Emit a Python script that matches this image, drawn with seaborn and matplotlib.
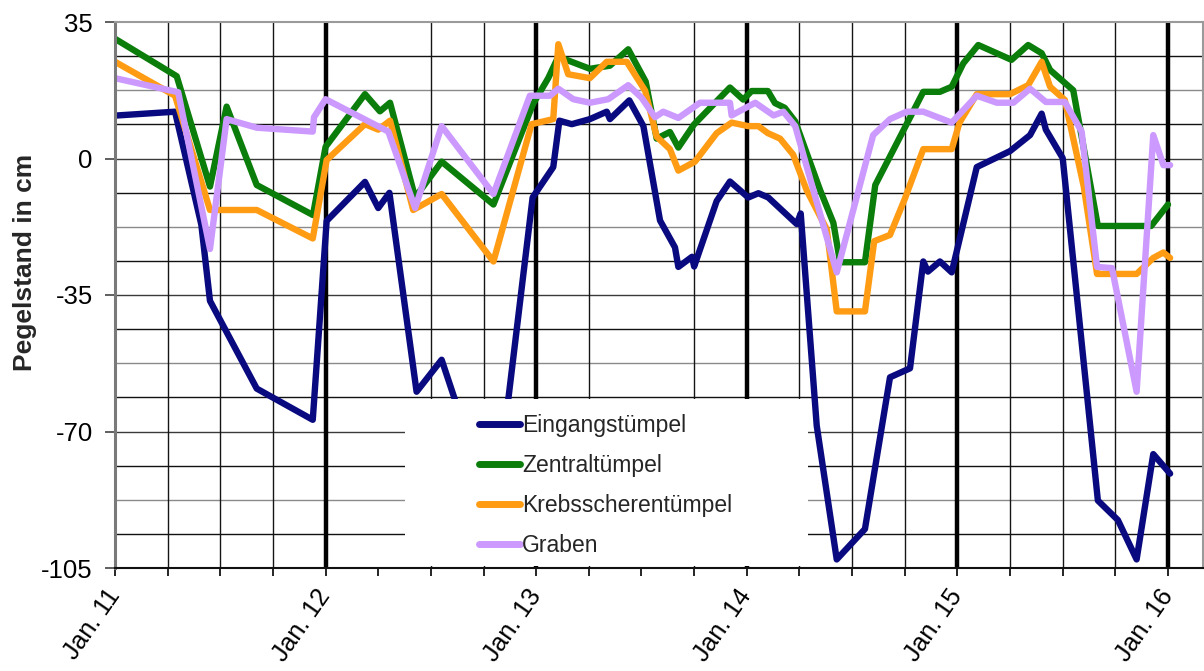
import numpy as np
import pandas as pd
import matplotlib
matplotlib.use("Agg")
import matplotlib.pyplot as plt
from matplotlib.patches import Rectangle
import seaborn as sns

sns.set_theme(style="white")
plt.rcParams["font.family"] = ["Liberation Sans", "DejaVu Sans"]

# Water level readings (cm) per pond, time in years (11 = Jan. 2011)
series_names = ["Eingangstümpel", "Zentraltümpel", "Krebsscherentümpel", "Graben"]
series_colors = ["#0a0a80", "#0b7d0b", "#ff9c14", "#cc99ff"]

eingang_t = [11.0, 11.285, 11.41, 11.451, 11.673, 11.939, 12.005, 12.187, 12.25, 12.303,
             12.432, 12.551, 12.80, 12.983, 13.081, 13.11, 13.169, 13.255, 13.335, 13.35,
             13.442, 13.509, 13.588, 13.659, 13.675, 13.74, 13.75, 13.857, 13.92, 14.007,
             14.055, 14.102, 14.237, 14.256, 14.332, 14.427, 14.561, 14.68, 14.775, 14.838,
             14.86, 14.917, 14.973, 15.092, 15.25, 15.345, 15.40, 15.42, 15.50, 15.667,
             15.762, 15.851, 15.93, 16.01]
eingang_v = [11.0, 12.0, -17.0, -36.5, -59.0, -67.0, -16.0, -6.0, -12.7, -8.8,
             -59.8, -51.6, -92.0, -10.0, -2.2, 9.7, 8.8, 10.1, 12.0, 10.1,
             14.9, 8.3, -15.9, -22.8, -27.8, -25.2, -27.7, -10.9, -5.9, -10.0,
             -8.9, -10.0, -16.8, -14.1, -68.5, -102.8, -95.0, -56.1, -53.8, -26.4,
             -29.0, -26.4, -29.2, -2.2, 1.9, 6.0, 11.5, 7.4, 0.1, -87.7,
             -92.7, -102.8, -75.8, -80.8]

zentral_t = [11.0, 11.293, 11.451, 11.53, 11.673, 11.94, 12.0, 12.187, 12.258, 12.306,
             12.425, 12.551, 12.797, 12.985, 13.057, 13.105, 13.255, 13.35, 13.437, 13.52,
             13.572, 13.635, 13.675, 13.749, 13.92, 13.983, 14.023, 14.10, 14.134, 14.18,
             14.23, 14.348, 14.411, 14.443, 14.561, 14.61, 14.838, 14.917, 14.973, 15.028,
             15.099, 15.257, 15.336, 15.40, 15.44, 15.55, 15.667, 15.92, 16.0]
zentral_v = [30.7, 21.1, -7.2, 13.3, -6.8, -14.5, 3.0, 16.5, 12.1, 14.3,
             -10.0, -0.8, -11.8, 14.0, 20.6, 26.1, 23.0, 23.8, 28.0, 19.7,
             5.1, 6.8, 2.8, 8.7, 18.2, 15.1, 17.3, 17.3, 14.2, 13.0,
             9.5, -8.1, -16.5, -26.6, -26.6, -6.8, 17.1, 17.1, 18.4, 24.4,
             29.1, 25.3, 29.1, 27.0, 22.7, 17.5, -17.3, -17.3, -11.8]

krebs_t = [11.0, 11.285, 11.451, 11.673, 11.939, 12.005, 12.187, 12.25, 12.306, 12.416,
           12.551, 12.797, 12.978, 13.081, 13.105, 13.152, 13.255, 13.335, 13.43, 13.517,
           13.572, 13.635, 13.675, 13.754, 13.857, 13.928, 14.007, 14.055, 14.10, 14.158,
           14.22, 14.284, 14.38, 14.427, 14.561, 14.605, 14.68, 14.75, 14.838, 14.973,
           15.01, 15.092, 15.25, 15.336, 15.40, 15.44, 15.51, 15.60, 15.663, 15.851,
           15.93, 15.978, 16.01]
krebs_v = [24.8, 16.1, -13.2, -13.2, -20.5, -0.4, 8.8, 7.4, 9.7, -13.2,
           -9.1, -26.4, 8.8, 10.1, 29.3, 21.6, 20.6, 24.8, 24.8, 17.4,
           5.6, 2.4, -3.1, -0.8, 6.5, 9.2, 8.3, 8.3, 6.5, 5.1,
           1.0, -8.1, -18.2, -39.2, -39.2, -21.2, -19.6, -10.4, 2.4, 2.4,
           9.2, 16.5, 16.5, 18.8, 24.8, 18.4, 15.0, -7.2, -29.6, -29.6,
           -25.5, -24.1, -25.5]

graben_t = [11.0, 11.30, 11.451, 11.53, 11.673, 11.939, 11.945, 12.0, 12.298, 12.425,
            12.551, 12.797, 12.97, 13.066, 13.105, 13.176, 13.255, 13.342, 13.437, 13.50,
            13.564, 13.603, 13.675, 13.778, 13.92, 13.928, 14.04, 14.127, 14.174, 14.23,
            14.427, 14.60, 14.68, 14.759, 14.838, 14.973, 15.092, 15.187, 15.266, 15.345,
            15.42, 15.51, 15.59, 15.663, 15.734, 15.851, 15.93, 15.978, 16.01]
graben_v = [20.6, 17.0, -23.2, 10.1, 7.9, 6.9, 10.6, 15.2, 6.9, -12.7,
            8.3, -9.1, 16.1, 16.1, 17.9, 15.2, 14.3, 15.2, 18.8, 15.6,
            10.6, 12.0, 10.4, 14.3, 14.3, 11.05, 14.3, 11.05, 12.0, 8.3,
            -29.2, 6.0, 10.1, 12.0, 12.0, 9.2, 16.1, 14.3, 14.3, 17.9,
            14.5, 14.5, 6.9, -27.8, -28.1, -59.8, 6.0, -1.7, -1.7]

year_ticks = [11, 12, 13, 14, 15, 16]
year_labels = ["Jan. 11", "Jan. 12", "Jan. 13", "Jan. 14", "Jan. 15", "Jan. 16"]
level_ticks = [-105, -70, -35, 0, 35]

frames = []
for name, t, v in zip(series_names,
                      [eingang_t, zentral_t, krebs_t, graben_t],
                      [eingang_v, zentral_v, krebs_v, graben_v]):
    frames.append(pd.DataFrame({"Zeit": t, "Pegel": v, "Gewässer": name}))
df = pd.concat(frames, ignore_index=True)

W, H = 1204, 671
fig = plt.figure(figsize=(W / 100, H / 100), dpi=100)
ax = fig.add_axes([115 / W, 1 - 568 / H, 1088 / W, 546 / H])
ax.set_facecolor("white")

ax.set_xlim(11, 11 + 1088 / 210.6)
ax.set_ylim(-105, 35)

# horizontal grid every 8.75 cm
for k in range(1, 16):
    yv = -105 + 8.75 * k
    col = "#8a8a8a" if k % 4 == 2 else ("#3a3a3a" if k % 4 == 0 else "#111111")
    ax.axhline(yv, color=col, lw=1.0, zorder=0.5)

# vertical grid every quarter year, heavy lines at each January
for q in np.arange(11.25, 16.01, 0.25):
    if abs(q - round(q)) < 1e-6:
        ax.axvline(q, color="black", lw=3.2, zorder=0.6)
    elif abs(q - 12.25) < 1e-6 or abs(q - 13.5) < 1e-6:
        continue
    else:
        ax.axvline(q, color="#151515", lw=1.0, zorder=0.5)

sns.lineplot(data=df, x="Zeit", y="Pegel", hue="Gewässer", hue_order=series_names,
             palette=dict(zip(series_names, series_colors)), estimator=None,
             linewidth=4.6, ax=ax, legend=True, zorder=2)

for s in ["top", "right"]:
    ax.spines[s].set_color("#9a9a9a")
    ax.spines[s].set_linewidth(1.5)
ax.spines["left"].set_color("#7a7a7a")
ax.spines["left"].set_linewidth(2.2)
ax.spines["bottom"].set_color("#111111")
ax.spines["bottom"].set_linewidth(1.5)

ax.set_yticks(level_ticks)
ax.set_yticklabels([str(t) for t in level_ticks])
ax.set_xticks(year_ticks)
ax.set_xticks(np.arange(11.25, 16.01, 0.25), minor=True)
ax.set_xticklabels(year_labels, rotation=55, ha="right", va="center",
                   rotation_mode="anchor")
ax.tick_params(axis="y", which="major", left=True, length=7, width=1.2,
               color="#444444", labelsize=18.5, pad=9, labelcolor="black")
ax.tick_params(axis="x", which="both", bottom=True, length=6, width=1.2,
               color="black", labelsize=18, pad=11, labelcolor="black")
ax.set_xlabel("")
ax.set_ylabel("")

fig.text(25 / W, 1 - 262 / H, "Pegelstand in cm", rotation=90, ha="center",
         va="center", fontsize=19, fontweight="bold")

# opaque legend panel
ax.add_patch(Rectangle((0.2665, 0.004), 0.3705, 0.3055, transform=ax.transAxes,
                       facecolor="white", edgecolor="none", zorder=3.5))
handles, labels = ax.get_legend_handles_labels()
leg = ax.legend(handles, labels, loc="upper left", bbox_to_anchor=(0.335, 0.282),
                frameon=False, fontsize=16.5, handlelength=1.75, handletextpad=0.1,
                labelspacing=0.74, borderpad=0, borderaxespad=0)
leg.set_zorder(5)
for h in leg.get_lines():
    h.set_linewidth(5)

fig.savefig("out.png", dpi=100, facecolor="white")
